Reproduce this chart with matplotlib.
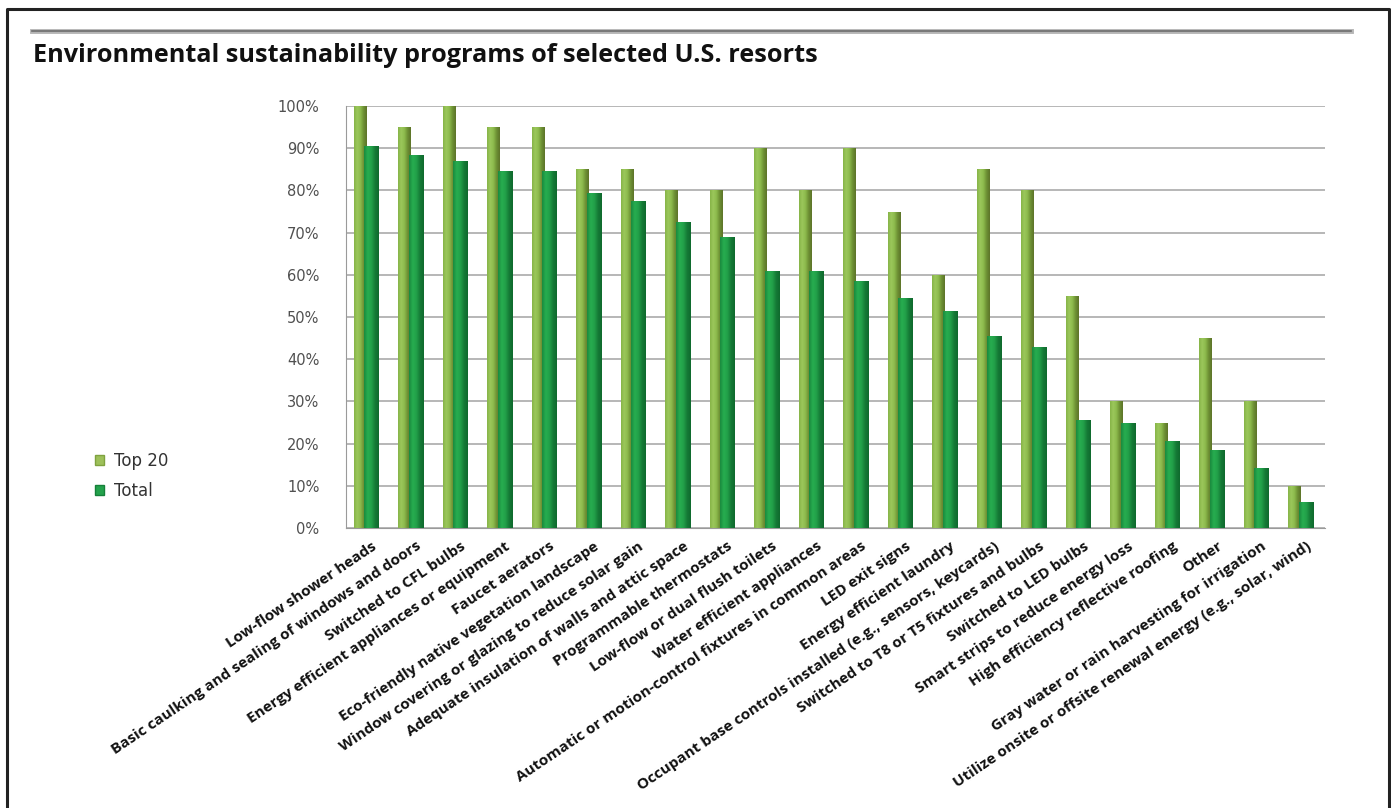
import matplotlib
matplotlib.use("Agg")
import matplotlib.pyplot as plt
import matplotlib.transforms as mtransforms
from matplotlib.colors import LinearSegmentedColormap
from matplotlib.lines import Line2D
from matplotlib.patches import Patch
import numpy as np

categories = [
    "Low-flow shower heads",
    "Basic caulking and sealing of windows and doors",
    "Switched to CFL bulbs",
    "Energy efficient appliances or equipment",
    "Faucet aerators",
    "Eco-friendly native vegetation landscape",
    "Window covering or glazing to reduce solar gain",
    "Adequate insulation of walls and attic space",
    "Programmable thermostats",
    "Low-flow or dual flush toilets",
    "Water efficient appliances",
    "Automatic or motion-control fixtures in common areas",
    "LED exit signs",
    "Energy efficient laundry",
    "Occupant base controls installed (e.g., sensors, keycards)",
    "Switched to T8 or T5 fixtures and bulbs",
    "Switched to LED bulbs",
    "Smart strips to reduce energy loss",
    "High efficiency reflective roofing",
    "Other",
    "Gray water or rain harvesting for irrigation",
    "Utilize onsite or offsite renewal energy (e.g., solar, wind)",
]
top20 = [100, 95, 100, 95, 95, 85, 85, 80, 80, 90, 80, 90, 75, 60, 85, 80, 55, 30, 25, 45, 30, 10]
total = [90.5, 88.5, 87, 84.5, 84.5, 79.5, 77.5, 72.5, 69, 61, 61, 58.5, 54.5, 51.5, 45.5, 43, 25.5, 24.8, 20.7, 18.5, 14.3, 6.2]
yticks = list(range(0, 101, 10))

W, H = 1391, 808
fig = plt.figure(figsize=(W / 100, H / 100), dpi=100)
fig.patch.set_facecolor("white")

ax = fig.add_axes([346 / W, 1 - 528 / H, (1325 - 346) / W, (528 - 106) / H])
x = np.arange(len(categories))

# horizontal gradients to give the bars a rounded look
cmap_top = LinearSegmentedColormap.from_list("top", ["#86b448", "#9cc75c", "#8cba4c", "#6d8f34", "#5d7429"])
cmap_tot = LinearSegmentedColormap.from_list("tot", ["#1a8a3e", "#27ad50", "#22a049", "#157a36", "#0f6a2e"])
grad = np.linspace(0, 1, 64).reshape(1, -1)

bars_top = ax.bar(x - 0.19, top20, width=0.28, color="#8cba4c", zorder=2)
bars_tot = ax.bar(x + 0.08, total, width=0.33, color="#22a049", zorder=3)
for bars, cm, z in ((bars_top, cmap_top, 2.1), (bars_tot, cmap_tot, 3.1)):
    for b in bars:
        bx, by, bw, bh = b.get_x(), b.get_y(), b.get_width(), b.get_height()
        im = ax.imshow(grad, cmap=cm, aspect="auto", extent=(bx, bx + bw, by, by + bh),
                       zorder=z, interpolation="bilinear")
        im.set_clip_path(b)

ax.set_xlim(-0.5, len(categories) - 0.5)
ax.set_ylim(0, 100)
ax.set_yticks(yticks)
ax.set_yticklabels([f"{v}%" for v in yticks], family="DejaVu Sans")
ax.yaxis.grid(True, color="#a3a3a3", linewidth=1.1, zorder=0)
ax.set_axisbelow(True)
for s in ("top", "right"):
    ax.spines[s].set_visible(False)
ax.spines["left"].set_color("#9a9a9a")
ax.spines["bottom"].set_color("#9a9a9a")
ax.tick_params(axis="y", length=0, pad=19, labelsize=10.5, labelcolor="#505050")
ax.tick_params(axis="x", length=0, pad=8)

ax.set_xticks(x)
ax.set_xticklabels(categories, rotation=34, ha="right", rotation_mode="anchor",
                   fontsize=11, family="Open Sans", fontweight="bold", color="#111111")
shift = mtransforms.ScaledTranslation(3 / 100, 0, fig.dpi_scale_trans)
for lab in ax.get_xticklabels():
    lab.set_transform(lab.get_transform() + shift)

handles = [Patch(facecolor="#9dc05a", edgecolor="#7fa23f", label="Top 20"),
           Patch(facecolor="#23a24c", edgecolor="#15803a", label="Total")]
fig.legend(handles=handles, loc="center left", bbox_to_anchor=(80 / W, 1 - 476 / H),
           frameon=False, handlelength=0.55, handleheight=0.55, handletextpad=0.6,
           labelspacing=0.75, prop={"family": "DejaVu Sans", "size": 12}, labelcolor="#333333")

fig.text(33 / W, 1 - 55 / H, "Environmental sustainability programs of selected U.S. resorts",
         fontsize=18.2, fontweight="bold", family="Open Sans", color="#111111", va="center", ha="left")

# header rule and outer frame
fig.add_artist(Line2D([32 / W, 1351 / W], [1 - 30.5 / H] * 2, transform=fig.transFigure,
                      color="#b5b5b5", linewidth=3.5))
fig.add_artist(Line2D([32 / W, 1351 / W], [1 - 30.5 / H] * 2, transform=fig.transFigure,
                      color="#6e6e6e", linewidth=1.2))
fig.add_artist(Line2D([7 / W, 7 / W, 1389 / W, 1389 / W], [0, 1 - 9 / H, 1 - 9 / H, 0],
                      transform=fig.transFigure, color="#222222", linewidth=2.2))

fig.savefig("out.png", dpi=100)
